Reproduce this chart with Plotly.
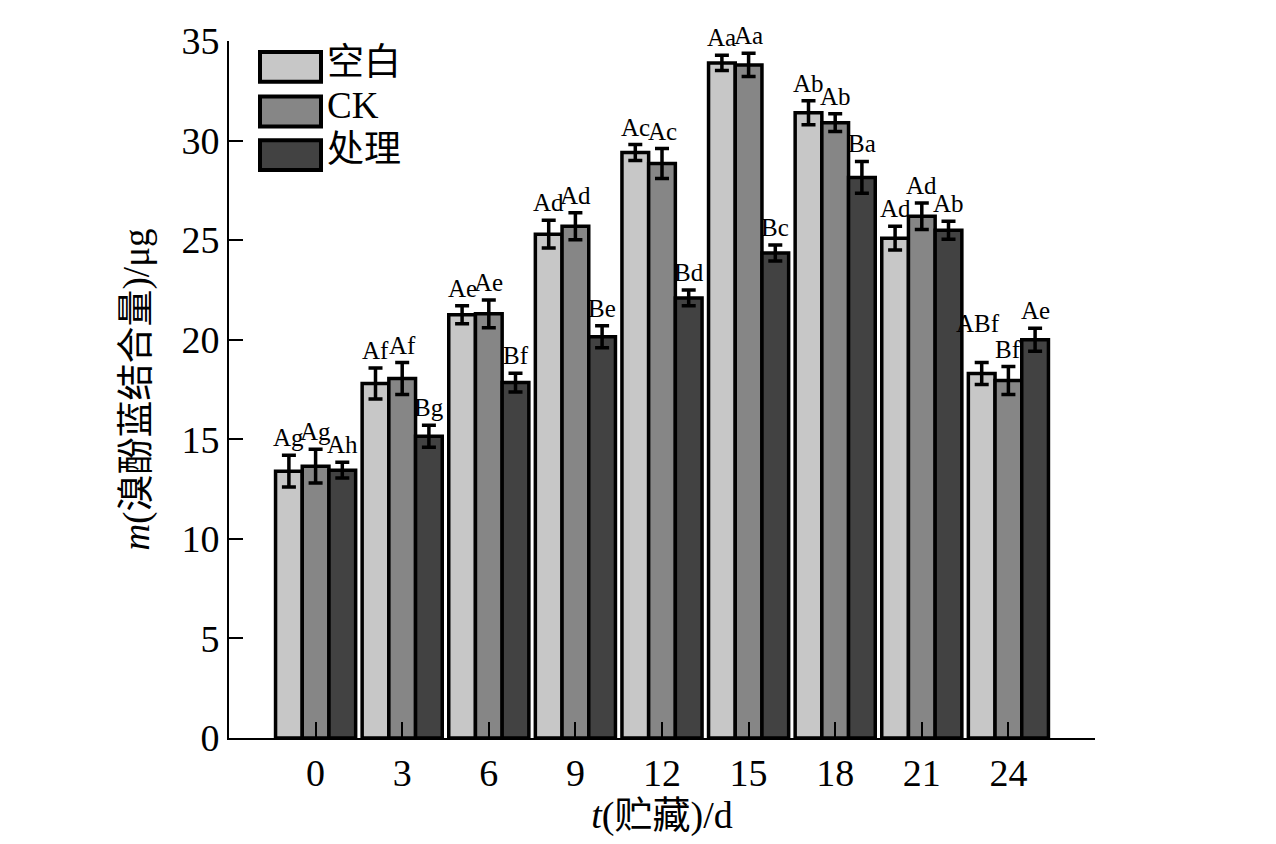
import plotly.graph_objects as go

# 贮藏时间 (d)
dias = ['0', '3', '6', '9', '12', '15', '18', '21', '24']

# 溴酚蓝结合量 (μg)
branco = [13.4, 17.8, 21.25, 25.3, 29.4, 33.9, 31.4, 25.1, 18.3]
branco_err = [0.8, 0.78, 0.45, 0.7, 0.4, 0.38, 0.6, 0.6, 0.55]
branco_lab = ['Ag', 'Af', 'Ae', 'Ad', 'Ac', 'Aa', 'Ab', 'Ad', 'ABf']

ck = [13.65, 18.05, 21.3, 25.7, 28.85, 33.8, 30.9, 26.2, 17.95]
ck_err = [0.85, 0.8, 0.7, 0.68, 0.75, 0.58, 0.45, 0.67, 0.7]
ck_lab = ['Ag', 'Af', 'Ae', 'Ad', 'Ac', 'Aa', 'Ab', 'Ad', 'Bf']

trat = [13.45, 15.15, 17.85, 20.15, 22.1, 24.35, 28.15, 25.5, 20.0]
trat_err = [0.4, 0.55, 0.47, 0.55, 0.4, 0.4, 0.8, 0.45, 0.58]
trat_lab = ['Ah', 'Bg', 'Bf', 'Be', 'Bd', 'Bc', 'Ba', 'Ab', 'Ae']

nomes = ['空白', 'CK', '处理']
CORES = ['#c7c7c7', '#868686', '#424242']

FONTE = 'Liberation Serif, Times New Roman, Noto Sans CJK SC'
BARGAP = 0.075

series = [
    (branco, branco_err, branco_lab),
    (ck, ck_err, ck_lab),
    (trat, trat_err, trat_lab),
]

x_idx = list(range(len(dias)))
larg = (1 - BARGAP) / 3

# deslocamento extra (px) de rótulos que se sobrepõem: (série, categoria) -> (dx, dy)
ajuste = {(0, 8): (-4, 22)}

fig = go.Figure()

for i, (vals, errs, labs) in enumerate(series):
    fig.add_trace(go.Bar(
        x=x_idx, y=vals, name=nomes[i],
        marker=dict(color=CORES[i], line=dict(color='black', width=3.5)),
        error_y=dict(type='data', array=errs, color='black', thickness=3.5, width=7),
        showlegend=False
    ))

# letras de significância acima das barras de erro
for i, (vals, errs, labs) in enumerate(series):
    for k in x_idx:
        dx, dy = ajuste.get((i, k), (0, 0))
        fig.add_annotation(
            x=k + (i - 1) * larg, y=vals[k] + errs[k],
            text=labs[k], showarrow=False,
            xanchor='center', yanchor='bottom',
            xshift=dx, yshift=2 + dy,
            font=dict(family=FONTE, size=25, color='black')
        )

# legenda manual (caixas grandes como no original)
W, H = 866, 702
def px_x(p):
    return (p - 229) / W
def px_y(p):
    return (738 - p) / H

caixas = [(47, 77, 58), (92, 122, 101), (136, 166, 145)]
for i, (y0, y1, yt) in enumerate(caixas):
    fig.add_shape(type='rect', xref='paper', yref='paper',
                  x0=px_x(260), x1=px_x(321), y0=px_y(y1), y1=px_y(y0),
                  fillcolor=CORES[i], line=dict(color='black', width=4))
    fig.add_annotation(xref='paper', yref='paper', x=px_x(325), y=px_y(yt),
                       text=nomes[i], showarrow=False, xanchor='left', yanchor='middle',
                       font=dict(family=FONTE, size=37, color='black'))

fig.update_layout(
    width=1276, height=844,
    margin=dict(l=221, r=189, t=28, b=114),
    plot_bgcolor='white', paper_bgcolor='white',
    barmode='group', bargap=BARGAP, bargroupgap=0,
    font=dict(family=FONTE, size=38, color='black'),
    xaxis=dict(
        range=[-1, 9], tickvals=x_idx, ticktext=dias,
        showline=True, linecolor='black', linewidth=2,
        ticks='inside', ticklen=16, tickwidth=2, tickcolor='black',
        showgrid=False, zeroline=False,
        tickfont=dict(size=38),
        title=dict(text='<i>t</i>(贮藏)/d', font=dict(size=38), standoff=4)
    ),
    yaxis=dict(
        range=[0, 35], tickvals=list(range(0, 36, 5)),
        showline=True, linecolor='black', linewidth=2,
        ticks='inside', ticklen=14, tickwidth=2, tickcolor='black',
        showgrid=False, zeroline=False,
        tickfont=dict(size=38),
        title=dict(text='<i>m</i>(溴酚蓝结合量)/μg', font=dict(size=37), standoff=20)
    )
)

fig.write_html('out.html')
